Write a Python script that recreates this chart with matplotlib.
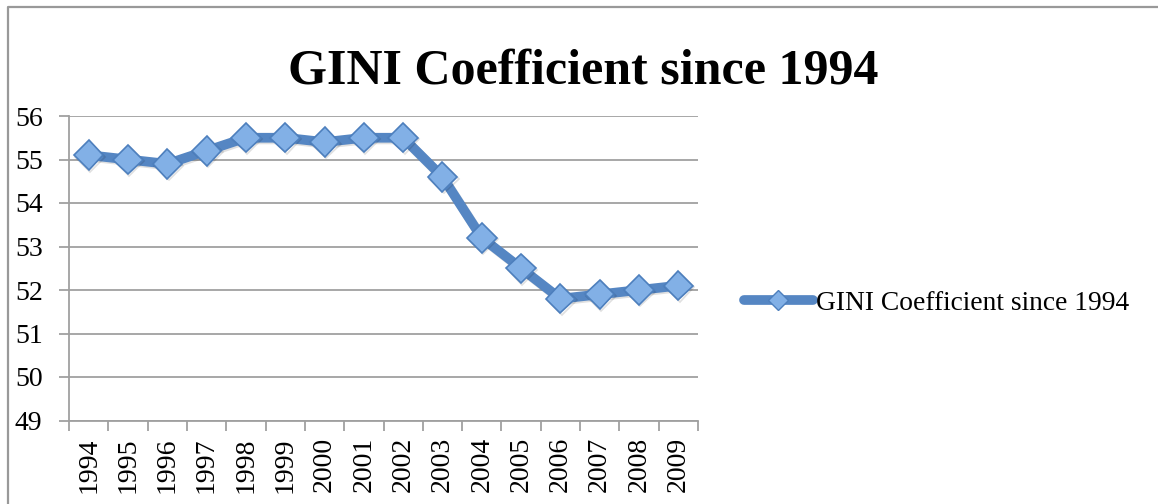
import matplotlib
matplotlib.use("Agg")
import matplotlib.pyplot as plt
import matplotlib.patheffects as pe
from matplotlib.lines import Line2D
import numpy as np

years = ["1994", "1995", "1996", "1997", "1998", "1999", "2000", "2001",
         "2002", "2003", "2004", "2005", "2006", "2007", "2008", "2009"]
gini = [55.1, 55.0, 54.9, 55.2, 55.5, 55.5, 55.4, 55.5,
        55.5, 54.6, 53.2, 52.5, 51.8, 51.9, 52.0, 52.1]
yticks = [49, 50, 51, 52, 53, 54, 55, 56]
series_name = "GINI Coefficient since 1994"
title = "GINI Coefficient since 1994"

plt.rcParams['font.family'] = ['Liberation Serif', 'DejaVu Serif']

W, H = 1158, 504
fig = plt.figure(figsize=(W / 100, H / 100), dpi=100)
ax = fig.add_axes([69 / W, 1 - 420.5 / H, (698 - 69) / W, (420.5 - 116) / H])

grey = '#a0a0a0'
line_c = '#5586c3'
face_c = '#82b0e6'
edge_c = '#4d7fbd'

x = np.arange(len(years))
shadow = [pe.SimpleLineShadow(offset=(1, -1.2), shadow_color='k', alpha=0.12), pe.Normal()]
ax.plot(x, gini, color=line_c, lw=7, marker='D', markersize=15,
        markerfacecolor=face_c, markeredgecolor=edge_c, markeredgewidth=1.2,
        solid_joinstyle='round', path_effects=shadow, zorder=3)

ax.set_xlim(-0.5, len(years) - 0.5)
ax.set_ylim(yticks[0], yticks[-1])
ax.set_yticks(yticks)
ax.yaxis.grid(True, color=grey, lw=1.3)
ax.set_axisbelow(True)

# category boundaries get the tick marks, labels sit between them
ax.set_xticks(np.arange(len(years) + 1) - 0.5)
ax.set_xticklabels([])
ax.set_xticks(x, minor=True)
ax.set_xticklabels(years, minor=True, rotation=90, fontsize=20)
ax.tick_params(axis='x', which='major', direction='out', length=7, width=1.3, color=grey)
ax.tick_params(axis='x', which='minor', length=0, pad=12)
ax.tick_params(axis='y', direction='out', length=7, width=1.3, color=grey, labelsize=20, pad=12)

for s in ['top', 'right']:
    ax.spines[s].set_visible(False)
for s in ['left', 'bottom']:
    ax.spines[s].set_color(grey)
    ax.spines[s].set_linewidth(1.3)

fig.text(0.5035, 1 - 84 / H, title, ha='center', va='baseline',
         fontsize=36, fontweight='bold')

handle = Line2D([], [], color=line_c, lw=7, marker='D', markersize=10,
                markerfacecolor=face_c, markeredgecolor=edge_c, markeredgewidth=1,
                solid_capstyle='round')
fig.legend([handle], [series_name], loc='center left',
           bbox_to_anchor=(744 / W, 1 - 303 / H), frameon=False,
           fontsize=19.8, handlelength=2.5, handletextpad=0.1, borderpad=0, borderaxespad=0)

# outer chart frame (only top and left edges are visible in the crop)
fig.add_artist(Line2D([8 / W, 8 / W, 1], [0, 1 - 7 / H, 1 - 7 / H],
                      transform=fig.transFigure, color='#999999', lw=1.6))

fig.savefig("out.png", dpi=100)
